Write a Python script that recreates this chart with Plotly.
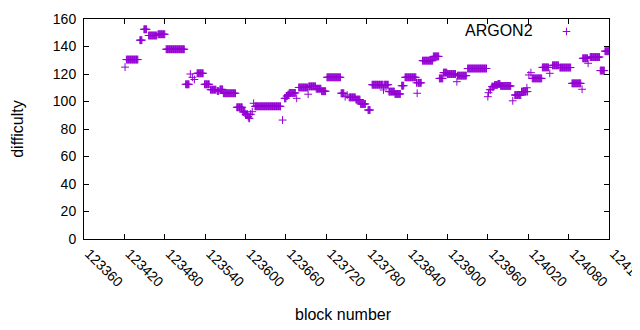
import plotly.graph_objects as go

# Runs of consecutive blocks that share one difficulty value
run_start = [123421, 123423, 123443, 123449, 123456, 123470, 123482, 123511, 123518, 123521,
             123524, 123528, 123539, 123548, 123558, 123562, 123567, 123587, 123596, 123600,
             123604, 123605, 123607, 123610, 123612, 123614, 123655, 123658, 123661, 123663,
             123665, 123676, 123679, 123693, 123694, 123705, 123713, 123721, 123742, 123748,
             123751, 123754, 123764, 123771, 123782, 123788, 123805, 123813, 123822, 123832,
             123837, 123854, 123855, 123863, 123879, 123888, 123894, 123900, 123914, 123915,
             123930, 123960, 123961, 123963, 123966, 123970, 123975, 123979, 123997, 124000,
             124010, 124018, 124021, 124024, 124026, 124041, 124052, 124056, 124067, 124085,
             124100, 124101, 124109, 124112, 124127, 124134]
run_end = [123421, 123440, 123446, 123453, 123468, 123480, 123509, 123516, 123518, 123521,
           123524, 123537, 123546, 123556, 123560, 123566, 123585, 123595, 123599, 123603,
           123604, 123606, 123608, 123610, 123612, 123652, 123655, 123660, 123662, 123664,
           123674, 123676, 123692, 123693, 123704, 123712, 123719, 123741, 123746, 123748,
           123751, 123763, 123770, 123778, 123785, 123812, 123805, 123821, 123830, 123835,
           123853, 123861, 123855, 123878, 123887, 123893, 123899, 123912, 123914, 123928,
           123958, 123960, 123961, 123964, 123969, 123974, 123978, 123994, 123997, 124009,
           124019, 124018, 124021, 124024, 124040, 124050, 124052, 124065, 124083, 124098,
           124100, 124108, 124109, 124126, 124133, 124140]
run_value = [125.0, 130.5, 144.6, 152.5, 148.0, 148.9, 138.0, 112.5, 120.0, 117.6,
             116.0, 120.5, 112.5, 108.6, 107.6, 108.8, 106.0, 95.8, 92.4, 90.7,
             89.0, 87.8, 90.7, 92.6, 98.7, 96.5, 86.5, 102.3, 104.0, 105.0,
             106.2, 102.3, 110.2, 105.3, 111.0, 109.3, 107.5, 117.6, 106.0, 103.5,
             104.7, 103.0, 101.4, 98.2, 93.8, 112.2, 108.4, 107.2, 105.5, 111.5,
             117.6, 113.6, 106.0, 129.7, 132.8, 116.8, 121.0, 120.0, 114.4, 118.8,
             124.0, 103.5, 106.4, 108.6, 110.8, 112.0, 112.7, 111.3, 100.5, 104.7,
             107.2, 110.0, 119.3, 121.0, 116.8, 124.8, 120.5, 126.3, 124.7, 113.2,
             108.9, 131.4, 127.8, 132.3, 122.5, 136.6]

x_range = [123360, 124140]
x_tick_step = 60
y_range = [0, 160]
y_tick_step = 20
series_name = "ARGON2"

# expand runs to one value per block (later runs override earlier ones)
per_block = {}
for s, e, v in zip(run_start, run_end, run_value):
    for b in range(s, e + 1):
        per_block[b] = v
blocks = sorted(per_block)
difficulty = [per_block[b] for b in blocks]

PURPLE = "#9400D3"
FONT = "Liberation Sans, Arial, sans-serif"

fig = go.Figure()
fig.add_trace(go.Scatter(
    x=blocks, y=difficulty, mode="markers", name=series_name, showlegend=False,
    marker=dict(symbol="cross-thin", size=5.6, color=PURPLE,
                line=dict(color=PURPLE, width=1)),
))

axis_common = dict(showline=True, linecolor="black", linewidth=1, mirror="ticks",
                   ticks="inside", ticklen=5, tickcolor="black", tickwidth=1,
                   showgrid=False, zeroline=False, automargin=False,
                   tickfont=dict(family=FONT, size=14, color="black"))

fig.update_xaxes(range=x_range, tick0=x_range[0], dtick=x_tick_step, tickformat="d",
                 tickangle=45, ticklabelstandoff=0, ticklabelshift=5,
                 ticklabeloverflow="allow", **axis_common)
fig.update_yaxes(range=y_range, tick0=0, dtick=y_tick_step,
                 ticklabelstandoff=4, **axis_common)

# axis titles
fig.add_annotation(text="block number", xref="paper", yref="paper", x=0.495, y=-0.345,
                   showarrow=False, xanchor="center", yanchor="middle",
                   font=dict(family=FONT, size=16, color="black"))
fig.add_annotation(text="difficulty", xref="paper", yref="paper", x=-0.128, y=0.5,
                   textangle=-90, showarrow=False, xanchor="center", yanchor="middle",
                   font=dict(family=FONT, size=16, color="black"))

# gnuplot-style key: text then sample symbol
key_x, key_y = 0.919, 0.943
fig.add_annotation(text=series_name, xref="paper", yref="paper", x=0.859, y=key_y + 0.006,
                   showarrow=False, xanchor="right", yanchor="middle",
                   font=dict(family=FONT, size=16, color="black"))
dx, dy = 3.8 / 525, 3.8 / 220
fig.add_shape(type="line", xref="paper", yref="paper", x0=key_x - dx, x1=key_x + dx,
              y0=key_y, y1=key_y, line=dict(color=PURPLE, width=1))
fig.add_shape(type="line", xref="paper", yref="paper", x0=key_x, x1=key_x,
              y0=key_y - dy, y1=key_y + dy, line=dict(color=PURPLE, width=1))

# the page body has an 8px margin, so the figure is 8px smaller and margins shifted
fig.update_layout(width=632, height=322, margin=dict(l=76, r=31, t=11, b=91, autoexpand=False),
                  plot_bgcolor="white", paper_bgcolor="white",
                  font=dict(family=FONT, size=13, color="black"), showlegend=False)

fig.write_html("out.html", config={"displayModeBar": False})
